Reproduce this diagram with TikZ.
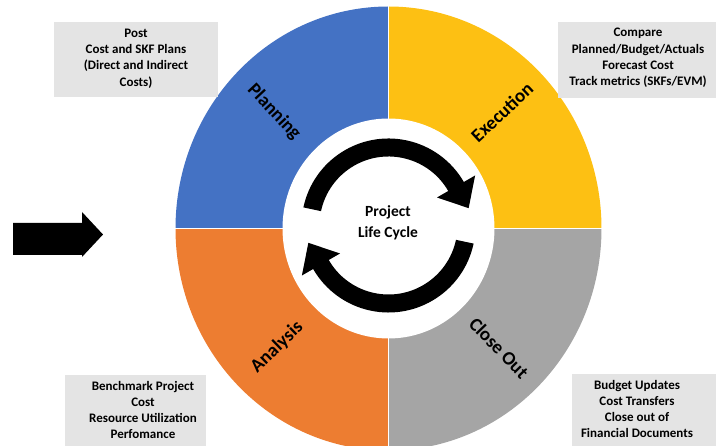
\documentclass[tikz,border=0pt]{standalone}
\usepackage{fontspec}
\setmainfont{Carlito}
\usetikzlibrary{arrows.meta}
\definecolor{cblue}{HTML}{4472C4}
\definecolor{cyellow}{HTML}{FDC013}
\definecolor{corange}{HTML}{ED7D31}
\definecolor{cgray}{HTML}{A5A5A5}
\definecolor{boxgray}{HTML}{E4E4E4}
\tikzset{
  lbl/.style={font=\bfseries\fontsize{19}{21}\selectfont, inner sep=0pt},
  ctext/.style={font=\bfseries\fontsize{15.5}{21}\selectfont, align=center, inner sep=0pt},
  boxbg/.style={fill=boxgray, inner sep=0pt, draw=none},
  btext/.style={font=\bfseries\fontsize{13}{16.3}\selectfont, align=center, inner sep=0pt},
}
\begin{document}
\begin{tikzpicture}[x=1pt,y=1pt]
\useasboundingbox (0,0) rectangle (716,446);
\clip (0,0) rectangle (716,446);
\coordinate (C) at (388.5,217.5);
% quadrants
\fill[cblue] (C) -- ++(-213,0) arc[start angle=180,end angle=90,x radius=213,y radius=222] -- cycle;
\fill[cyellow] (C) -- ++(0,222) arc[start angle=90,end angle=0,x radius=213,y radius=222] -- cycle;
\fill[cgray] (C) -- ++(213,0) arc[start angle=0,end angle=-90,x radius=213,y radius=222] -- cycle;
\fill[corange] (C) -- ++(0,-222) arc[start angle=270,end angle=180,x radius=213,y radius=222] -- cycle;
\draw[white,line width=1.8pt] (C) ++(-216,0) -- ++(432,0);
\draw[white,line width=1.8pt] (C) ++(0,-226) -- ++(0,452);
\fill[white] (C) ellipse[x radius=106,y radius=110];
% circular arrows
\begin{scope}[shift={(388.5,220.5)}]
\fill (168:87) arc[start angle=168,end angle=30,radius=87] -- (30:100) -- (12.2:82) -- (30:56) -- (30:69) arc[start angle=30,end angle=168,radius=69] -- cycle;
\fill (-12:87) arc[start angle=-12,end angle=-150,radius=87] -- (210:100) -- (192.2:82) -- (210:56) -- (210:69) arc[start angle=-150,end angle=-12,radius=69] -- cycle;
\end{scope}
% labels
\node[lbl, rotate=-47] (planning) at (274,334) {Planning};
\node[lbl, rotate=43] (execution) at (502,334) {Execution};
\node[lbl, rotate=44] (analysis) at (277,99) {Analysis};
\node[lbl, rotate=-46] (closeout) at (499,98) {Close Out};
\node[ctext] (plc) at (388,223) {Project\\Life Cycle};
% boxes
\node[boxbg, minimum width=164, minimum height=75] (b1) at (136,386.5) {};
\node[btext] (t1) at (136,387.5) {Post\\Cost and SKF Plans\\(Direct and Indirect\\Costs)};
\node[boxbg, minimum width=158, minimum height=76] (b2) at (637,386) {};
\node[btext] (t2) at (638,388) {Compare\\Planned/Budget/Actuals\\Forecast Cost\\Track metrics (SKFs/EVM)};
\node[boxbg, minimum width=141, minimum height=71] (b3) at (135.5,35.5) {};
\node[btext] (t3) at (143,36) {Benchmark Project\\Cost\\Resource Utilization\\Perfomance};
\node[boxbg, minimum width=144, minimum height=72] (b4) at (644,36) {};
\node[btext] (t4) at (637,37) {Budget Updates\\Cost Transfers\\Close out of\\Financial Documents};
% left arrow
\fill (13,223) -- (82,223) -- (82,234) -- (103,211.5) -- (82,189) -- (82,191) -- (13,191) -- cycle;
\end{tikzpicture}
\end{document}
